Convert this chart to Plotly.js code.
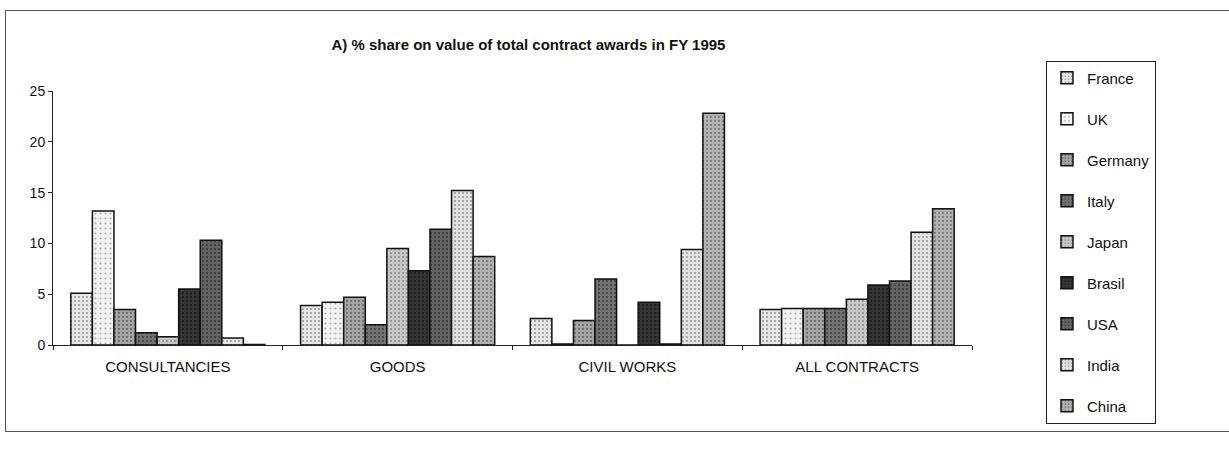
<!DOCTYPE html>
<html>
<head>
<meta charset="utf-8">
<script src="https://cdn.plot.ly/plotly-3.0.1.min.js"></script>
<style>
  html, body { margin: 0; padding: 0; background: #fff; }
  #wrap { position: relative; width: 1229px; height: 450px; overflow: hidden; }
  #chart { width: 1229px; height: 450px; }
  #frame { position: absolute; left: 5px; top: 10px; width: 1240px; height: 422px;
           border: 1px solid #555; pointer-events: none; box-sizing: border-box; }
</style>
</head>
<body>
<div id="wrap">
  <div id="chart"></div>
  <div id="frame"></div>
</div>
<script>
const categories = ["CONSULTANCIES", "GOODS", "CIVIL WORKS", "ALL CONTRACTS"];
const countries = ["France", "UK", "Germany", "Italy", "Japan", "Brasil", "USA", "India", "China"];

const France  = [5.1, 3.9, 2.6, 3.5];
const UK      = [13.2, 4.2, 0.1, 3.6];
const Germany = [3.5, 4.7, 2.4, 3.6];
const Italy   = [1.2, 2.0, 6.5, 3.6];
const Japan   = [0.8, 9.5, 0.0, 4.5];
const Brasil  = [5.5, 7.3, 4.2, 5.9];
const USA     = [10.3, 11.4, 0.1, 6.3];
const India   = [0.7, 15.2, 9.4, 11.1];
const China   = [0.05, 8.7, 22.8, 13.4];

const seriesValues = [France, UK, Germany, Italy, Japan, Brasil, USA, India, China];

const styles = [
  {bg: "#e6e6e6", fg: "#4a4a4a", size: 4, sol: 0.22},
  {bg: "#f3f3f3", fg: "#6a6a6a", size: 5, sol: 0.15},
  {bg: "#a4a4a4", fg: "#3a3a3a", size: 4, sol: 0.25},
  {bg: "#747474", fg: "#222222", size: 4, sol: 0.3},
  {bg: "#c6c6c6", fg: "#555555", size: 4, sol: 0.22},
  {bg: "#363636", fg: "#0e0e0e", size: 4, sol: 0.3},
  {bg: "#666666", fg: "#1e1e1e", size: 4, sol: 0.3},
  {bg: "#e2e2e2", fg: "#4a4a4a", size: 4, sol: 0.2},
  {bg: "#b2b2b2", fg: "#4a4a4a", size: 4, sol: 0.25}
];

const FONT = "Liberation Sans, Arial, sans-serif";

const traces = countries.map((name, i) => ({
  type: "bar",
  name: name,
  x: categories,
  y: seriesValues[i],
  legendgroup: name,
  marker: {
    color: styles[i].bg,
    line: {color: "#111", width: 1.5},
    pattern: {shape: ".", fgcolor: styles[i].fg, bgcolor: styles[i].bg,
              size: styles[i].size, solidity: styles[i].sol, fillmode: "overlay"}
  },
  hoverinfo: "x+y+name"
}));

const layout = {
  width: 1229,
  height: 450,
  margin: {l: 53, r: 257, t: 91, b: 105},
  paper_bgcolor: "#ffffff",
  plot_bgcolor: "#ffffff",
  font: {family: FONT, size: 14, color: "#111"},
  title: {
    text: "<b>A) % share on value of total contract awards in FY 1995</b>",
    font: {family: FONT, size: 15, color: "#111"},
    x: 0.43, xref: "container", xanchor: "center",
    y: 0.9, yref: "container", yanchor: "middle"
  },
  barmode: "group",
  bargap: 0.155,
  bargroupgap: 0,
  xaxis: {
    type: "category",
    showline: true, linecolor: "#222", linewidth: 1,
    ticks: "outside", tickson: "boundaries", ticklen: 4, tickcolor: "#222",
    tickfont: {family: FONT, size: 15, color: "#111"},
    ticklabelstandoff: 8,
    showgrid: false, zeroline: false
  },
  yaxis: {
    range: [0, 25], dtick: 5,
    showline: true, linecolor: "#222", linewidth: 1,
    ticks: "outside", ticklen: 4, tickcolor: "#222",
    tickfont: {family: FONT, size: 14, color: "#111"},
    showgrid: false, zeroline: false
  },
  showlegend: true,
  legend: {
    x: 1.0805, xanchor: "left", xref: "paper",
    y: 1.12, yanchor: "top", yref: "paper",
    orientation: "v",
    bgcolor: "#ffffff",
    bordercolor: "#222", borderwidth: 1,
    font: {family: FONT, size: 15, color: "#111"},
    tracegroupgap: 18.5,
    itemwidth: 30,
    maxheight: 440
  }
};

Plotly.newPlot("chart", traces, layout, {displayModeBar: false, staticPlot: true});
</script>
</body>
</html>
